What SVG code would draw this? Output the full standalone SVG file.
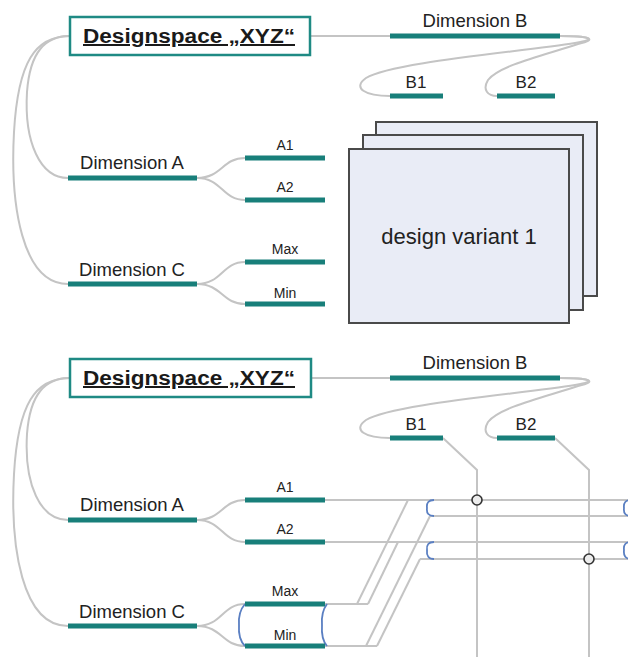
<svg xmlns="http://www.w3.org/2000/svg" width="628" height="657" viewBox="0 0 628 657">
<style>
.bg{fill:#ffffff}
.con{fill:none;stroke:#c4c4c4;stroke-width:2}
.bar{fill:#187f7a}
.box{fill:#ffffff;stroke:#1f8a84;stroke-width:2.5}
.title{font-family:"Liberation Sans",Arial,sans-serif;font-weight:bold;font-size:20px;fill:#1a1a1a;text-decoration:underline}
.lbl{font-family:"Liberation Sans",Arial,sans-serif;font-size:18.5px;fill:#222}
.sm{font-family:"Liberation Sans",Arial,sans-serif;font-size:17px;fill:#222}
.xs{font-family:"Liberation Sans",Arial,sans-serif;font-size:14px;fill:#222}
.page{fill:#e9ecf6;stroke:#4a4a4a;stroke-width:2}
.brk{fill:none;stroke:#5a7fc2;stroke-width:1.8}
.dot{fill:#ececec;stroke:#333;stroke-width:1.6}
</style>
<rect class="bg" x="0" y="0" width="628" height="657"/>

<!-- TOP SECTION -->
<g id="top">
  <g id="top-connectors">
    <path class="con" d="M310,36 L390,36"/>
    <path class="con" d="M70,36 C45,36 30,52 27,92 C24,142 40,178 68,178"/>
    <path class="con" d="M70,36 C35,36 18,62 14,132 C10,205 22,284 68,284"/>
    <path class="con" d="M560,36 C588,36 600,39 575,43 C520,52 392,62 366,78 C352,88 365,96 390,96"/>
    <path class="con" d="M560,36 C588,36 600,39 578,44 C545,55 500,65 488,80 C482,90 488,96 497,96"/>
    <path class="con" d="M197,178 C222,178 222,158 245,158"/>
    <path class="con" d="M197,178 C222,178 222,200 245,200"/>
    <path class="con" d="M197,284 C222,284 222,262 245,262"/>
    <path class="con" d="M197,284 C222,284 222,304 245,304"/>
  </g>
  <g id="top-designspace">
    <rect class="box" x="70" y="17" width="240" height="38"/>
    <text class="title" x="189" y="43" text-anchor="middle" textLength="212" lengthAdjust="spacingAndGlyphs">Designspace „XYZ“</text>
  </g>
  <g id="top-dimB">
    <rect class="bar" x="390" y="33.5" width="170" height="5"/>
    <text class="lbl" x="475" y="27" text-anchor="middle">Dimension B</text>
  </g>
  <g id="top-B1">
    <rect class="bar" x="390" y="93.5" width="53" height="5"/>
    <text class="sm" x="416" y="88" text-anchor="middle">B1</text>
  </g>
  <g id="top-B2">
    <rect class="bar" x="497" y="93.5" width="58" height="5"/>
    <text class="sm" x="526" y="88" text-anchor="middle">B2</text>
  </g>
  <g id="top-dimA">
    <rect class="bar" x="68" y="175.5" width="129" height="5"/>
    <text class="lbl" x="132" y="169" text-anchor="middle">Dimension A</text>
  </g>
  <g id="top-A1">
    <rect class="bar" x="245" y="155.5" width="80" height="5"/>
    <text class="xs" x="285" y="150" text-anchor="middle">A1</text>
  </g>
  <g id="top-A2">
    <rect class="bar" x="245" y="197.5" width="80" height="5"/>
    <text class="xs" x="285" y="192" text-anchor="middle">A2</text>
  </g>
  <g id="top-dimC">
    <rect class="bar" x="68" y="281.5" width="129" height="5"/>
    <text class="lbl" x="132" y="276" text-anchor="middle">Dimension C</text>
  </g>
  <g id="top-Max">
    <rect class="bar" x="245" y="259.5" width="80" height="5"/>
    <text class="xs" x="285" y="254" text-anchor="middle">Max</text>
  </g>
  <g id="top-Min">
    <rect class="bar" x="245" y="301.5" width="80" height="5"/>
    <text class="xs" x="285" y="298" text-anchor="middle">Min</text>
  </g>
  <g id="design-variants">
    <rect class="page" x="376" y="122" width="221" height="174"/>
    <rect class="page" x="363" y="135" width="220" height="175"/>
    <rect class="page" x="349" y="149" width="220" height="174"/>
    <text x="459" y="244" text-anchor="middle" font-family="Liberation Sans, Arial, sans-serif" font-size="22" fill="#222">design variant 1</text>
  </g>
</g>

<!-- BOTTOM SECTION -->
<g id="bottom">
  <g id="bottom-connectors">
    <path class="con" d="M310,378 L390,378"/>
    <path class="con" d="M70,378 C45,378 30,394 27,434 C24,484 40,520 68,520"/>
    <path class="con" d="M70,378 C35,378 18,404 14,474 C10,547 22,626 68,626"/>
    <path class="con" d="M560,378 C588,378 600,381 575,385 C520,394 392,404 366,420 C352,430 365,438 390,438"/>
    <path class="con" d="M560,378 C588,378 600,381 578,386 C545,397 500,407 488,422 C482,432 488,438 497,438"/>
    <path class="con" d="M197,520 C222,520 222,500 245,500"/>
    <path class="con" d="M197,520 C222,520 222,542 245,542"/>
    <path class="con" d="M197,626 C222,626 222,604 245,604"/>
    <path class="con" d="M197,626 C222,626 222,646 245,646"/>
    <path class="con" d="M443,438 L477,470 L477,657"/>
    <path class="con" d="M555,438 L589,470 L589,657"/>
    <path class="con" d="M325,500 L628,500"/>
    <path class="con" d="M430,516 L628,516"/>
    <path class="con" d="M325,542 L628,542"/>
    <path class="con" d="M420,559 L628,559"/>
    <path class="con" d="M325,604 L368,604"/>
    <path class="con" d="M357,604 L408,500"/>
    <path class="con" d="M368,604 L398,542"/>
    <path class="con" d="M325,646 L377,646"/>
    <path class="con" d="M366,646 L430,516"/>
    <path class="con" d="M377,646 L420,559"/>
    <path class="brk" d="M434,500 Q426,500 427,508 Q426,516 434,516"/>
    <path class="brk" d="M434,542 Q426,542 427,550 Q426,559 434,559"/>
    <path class="brk" d="M631,500 Q623,500 624,508 Q623,516 631,516"/>
    <path class="brk" d="M631,542 Q623,542 624,550 Q623,559 631,559"/>
    <path class="brk" d="M245,604 Q238,612 239,625 Q238,639 245,646"/>
    <path class="brk" d="M327,604 Q321,612 322,625 Q321,639 327,646"/>
    <circle class="dot" cx="477" cy="500" r="5"/>
    <circle class="dot" cx="589" cy="559" r="5"/>
  </g>
  <g id="bottom-designspace">
    <rect class="box" x="70" y="359" width="241" height="38"/>
    <text class="title" x="189" y="385" text-anchor="middle" textLength="212" lengthAdjust="spacingAndGlyphs">Designspace „XYZ“</text>
  </g>
  <g id="bottom-dimB">
    <rect class="bar" x="390" y="375.5" width="170" height="5"/>
    <text class="lbl" x="475" y="369" text-anchor="middle">Dimension B</text>
  </g>
  <g id="bottom-B1">
    <rect class="bar" x="390" y="435.5" width="53" height="5"/>
    <text class="sm" x="416" y="430" text-anchor="middle">B1</text>
  </g>
  <g id="bottom-B2">
    <rect class="bar" x="497" y="435.5" width="58" height="5"/>
    <text class="sm" x="526" y="430" text-anchor="middle">B2</text>
  </g>
  <g id="bottom-dimA">
    <rect class="bar" x="68" y="517.5" width="129" height="5"/>
    <text class="lbl" x="132" y="511" text-anchor="middle">Dimension A</text>
  </g>
  <g id="bottom-A1">
    <rect class="bar" x="245" y="497.5" width="80" height="5"/>
    <text class="xs" x="285" y="492" text-anchor="middle">A1</text>
  </g>
  <g id="bottom-A2">
    <rect class="bar" x="245" y="539.5" width="80" height="5"/>
    <text class="xs" x="285" y="534" text-anchor="middle">A2</text>
  </g>
  <g id="bottom-dimC">
    <rect class="bar" x="68" y="623.5" width="129" height="5"/>
    <text class="lbl" x="132" y="618" text-anchor="middle">Dimension C</text>
  </g>
  <g id="bottom-Max">
    <rect class="bar" x="245" y="601.5" width="80" height="5"/>
    <text class="xs" x="285" y="596" text-anchor="middle">Max</text>
  </g>
  <g id="bottom-Min">
    <rect class="bar" x="245" y="643.5" width="80" height="5"/>
    <text class="xs" x="285" y="640" text-anchor="middle">Min</text>
  </g>
</g>
</svg>
